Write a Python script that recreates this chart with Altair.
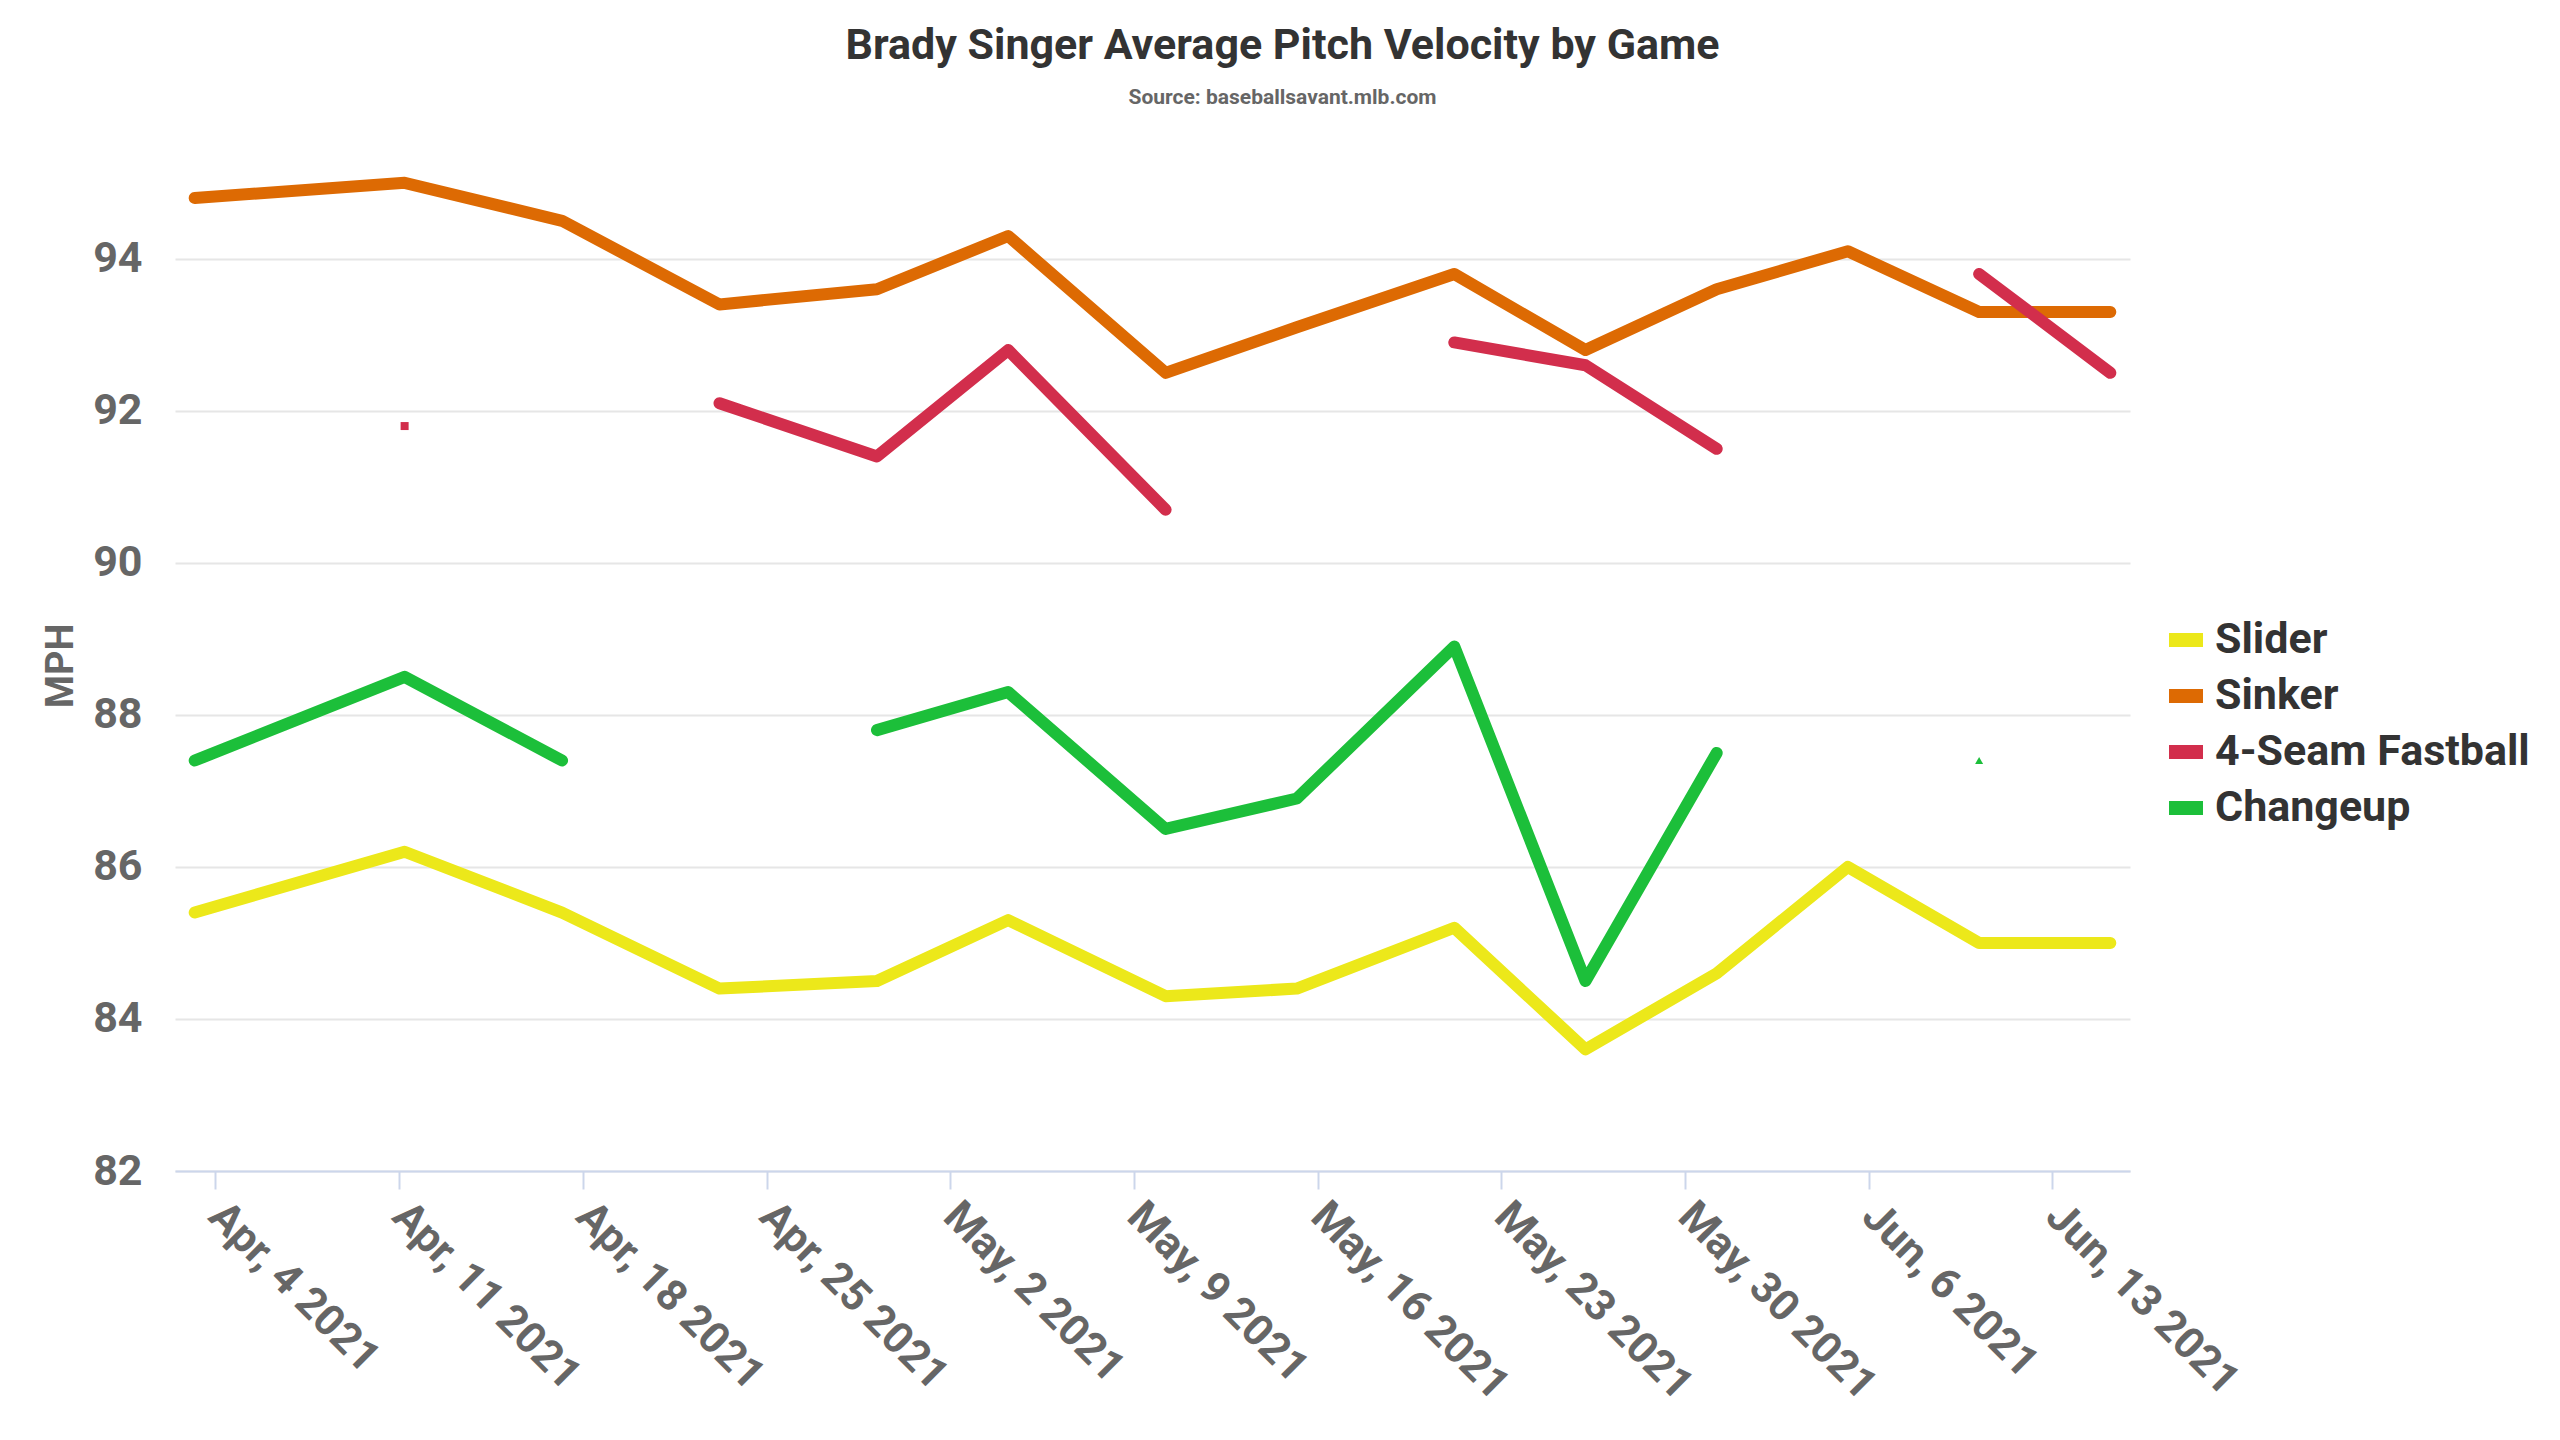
import altair as alt
import pandas as pd

# ---- data ----
dates = ["2021-04-03", "2021-04-11", "2021-04-17", "2021-04-23", "2021-04-29",
         "2021-05-04", "2021-05-10", "2021-05-15", "2021-05-21", "2021-05-26",
         "2021-05-31", "2021-06-05", "2021-06-10", "2021-06-15"]
slider = [85.4, 86.2, 85.4, 84.4, 84.5, 85.3, 84.3, 84.4, 85.2, 83.6, 84.6, 86.0, 85.0, 85.0]
sinker = [94.8, 95.0, 94.5, 93.4, 93.6, 94.3, 92.5, 93.1, 93.8, 92.8, 93.6, 94.1, 93.3, 93.3]
fastball = [None, 91.8, None, 92.1, 91.4, 92.8, 90.7, None, 92.9, 92.6, 91.5, None, 93.8, 92.5]
changeup = [87.4, 88.5, 87.4, None, 87.8, 88.3, 86.5, 86.9, 88.9, 84.5, 87.5, None, 87.4, None]

pitches = ["Slider", "Sinker", "4-Seam Fastball", "Changeup"]
colors = ["#ECE81A", "#DD6A03", "#D22E4C", "#1CBF3A"]
shapes = ["circle", "diamond", "square", "triangle-up"]
tick_days = [(4, 4), (4, 11), (4, 18), (4, 25), (5, 2), (5, 9), (5, 16), (5, 23), (5, 30), (6, 6), (6, 13)]

series = dict(zip(pitches, [slider, sinker, fastball, changeup]))

line_rows, point_rows = [], []
for p in pitches:
    vals = series[p]
    segs, cur = [], []
    for d, v in zip(dates, vals):
        if v is None:
            if cur:
                segs.append(cur)
            cur = []
        else:
            cur.append((d, v))
    if cur:
        segs.append(cur)
    for i, s in enumerate(segs):
        for d, v in s:
            row = {"date": d + "T05:00:00Z", "mph": v, "pitch": p, "seg": f"{p}-{i}", "marker": p}
            if len(s) > 1:
                line_rows.append(row)
            else:
                point_rows.append(row)

line_df = pd.DataFrame(line_rows)
point_df = pd.DataFrame(point_rows)

FONT = "Roboto"

x_scale = alt.Scale(type="utc",
                    domain=[alt.DateTime(year=2021, month=4, date=2, hours=11, utc=True),
                            alt.DateTime(year=2021, month=6, date=15, hours=23, utc=True)])
y_scale = alt.Scale(domain=[82, 95.3], nice=False, zero=False)

x_axis = alt.Axis(
    values=[alt.DateTime(year=2021, month=m, date=d, utc=True) for m, d in tick_days],
    labelExpr="utcFormat(datum.value, '%b, %-d %Y')",
    labelAngle=45, labelAlign="left", labelBaseline="middle",
    labelFont=FONT, labelFontSize=43, labelFontWeight="bold", labelColor="#666666",
    labelPadding=20, labelOverlap=False, labelFlush=False, labelLimit=1000,
    tickSize=18, tickColor="#CCD6EB", tickWidth=2,
    domainColor="#CCD6EB", domainWidth=2, grid=False, title=None,
)
y_axis = alt.Axis(
    values=[82, 84, 86, 88, 90, 92, 94], format="d",
    labelFont=FONT, labelFontSize=43, labelFontWeight="bold", labelColor="#666666",
    labelPadding=33, ticks=False, domain=False,
    grid=True, gridColor="#E6E6E6", gridWidth=2,
    title="MPH", titleFont=FONT, titleFontSize=38, titleFontWeight="bold",
    titleColor="#666666", titlePadding=12,
)

lines = alt.Chart(line_df).mark_line(
    strokeWidth=12, strokeCap="round", strokeJoin="round"
).encode(
    x=alt.X("date:T", scale=x_scale, axis=x_axis),
    y=alt.Y("mph:Q", scale=y_scale, axis=y_axis),
    color=alt.Color("pitch:N", scale=alt.Scale(domain=pitches, range=colors), sort=pitches,
                    legend=alt.Legend(
                        title=None, orient="none", legendX=1987, legendY=456,
                        symbolType="stroke", symbolSize=1156, symbolStrokeWidth=14,
                        labelFont=FONT, labelFontSize=43, labelFontWeight="bold",
                        labelColor="#333333", labelOffset=5, rowPadding=0,
                        padding=0, labelLimit=600,
                    )),
    detail="seg:N",
)

points = alt.Chart(point_df).mark_point(filled=True, size=64, opacity=1).encode(
    x=alt.X("date:T", scale=x_scale),
    y=alt.Y("mph:Q", scale=y_scale),
    color=alt.Color("marker:N", scale=alt.Scale(domain=pitches, range=colors), legend=None),
    shape=alt.Shape("marker:N", scale=alt.Scale(domain=pitches, range=shapes), legend=None),
)

chart = alt.layer(lines, points).resolve_scale(
    color="independent", shape="independent"
).resolve_legend(color="independent", shape="independent").properties(
    width=1955, height=1011,
    background="white",
    padding={"left": 167, "top": 152, "right": 422, "bottom": 261},
    autosize=alt.AutoSizeParams(type="none"),
    title=alt.TitleParams(
        text="Brady Singer Average Pitch Velocity by Game",
        subtitle="Source: baseballsavant.mlb.com",
        font=FONT, fontSize=43, fontWeight="bold", color="#333333",
        subtitleFont=FONT, subtitleFontSize=21, subtitleFontWeight="bold",
        subtitleColor="#666666", subtitlePadding=19,
        anchor="middle", dx=130, offset=52,
    ),
).configure_view(stroke=None)

chart.save("out.html", embed_options={"renderer": "svg", "actions": False})
